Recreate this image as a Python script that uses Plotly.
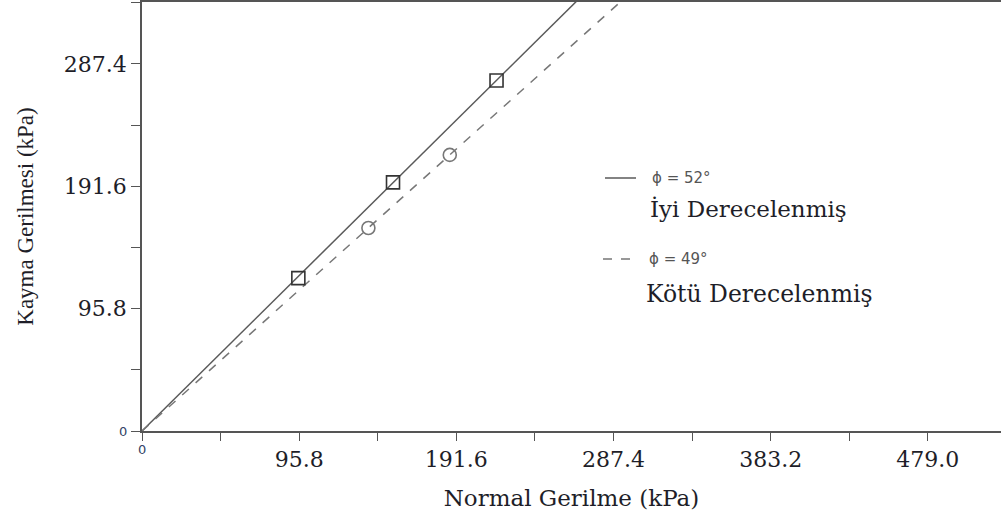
import plotly.graph_objects as go

# ---- data ----
good_x = [95.3, 153.0, 216.1]          # İyi Derecelenmiş (squares)
good_y = [119.7, 194.6, 274.3]
poor_x = [138.0, 187.6]                # Kötü Derecelenmiş (circles)
poor_y = [158.9, 216.1]
good_line_x = [0, 300.0]               # phi = 52°
good_line_y = [0, 381.0]
poor_line_x = [0, 320.0]               # phi = 49°
poor_line_y = [0, 368.6]

tick_vals = [0, 47.9, 95.8, 143.7, 191.6, 239.5, 287.4, 335.3, 383.2, 431.1, 479.0]
x_tick_text = ["", "", "95.8", "", "191.6", "", "287.4", "", "383.2", "", "479.0"]
y_tick_text = ["", "", "95.8", "", "191.6", "", "287.4", "", "", "", ""]

serif = "DejaVu Serif, serif"
serif_v = "Liberation Serif, Times New Roman, serif"
sans = "DejaVu Sans, sans-serif"
line_col = "#5a5a5a"
text_col = "#1e1e28"

fig = go.Figure()
fig.add_trace(go.Scatter(x=good_line_x, y=good_line_y, mode="lines",
                         line=dict(color=line_col, width=1.5), showlegend=False))
fig.add_trace(go.Scatter(x=poor_line_x, y=poor_line_y, mode="lines",
                         line=dict(color="#777777", width=1.5, dash="dash"), showlegend=False))
fig.add_trace(go.Scatter(x=good_x, y=good_y, mode="markers",
                         marker=dict(symbol="square-open", size=13, color="#333333",
                                     line=dict(color="#333333", width=1.6)),
                         showlegend=False))
fig.add_trace(go.Scatter(x=poor_x, y=poor_y, mode="markers",
                         marker=dict(symbol="circle-open", size=13, color="#777777",
                                     line=dict(color="#777777", width=1.6)),
                         showlegend=False))

axis_common = dict(showgrid=False, zeroline=False, showline=True, linecolor="#555555",
                   linewidth=1.5, ticks="outside", tickcolor="#555555", tickwidth=1.3,
                   automargin=False,
                   tickfont=dict(family=serif, size=22, color=text_col))

fig.update_xaxes(range=[0, 523.6], tickmode="array", tickvals=tick_vals,
                 ticktext=x_tick_text, ticklen=8, mirror=True,
                 title=dict(text="Normal Gerilme (kPa)", standoff=19,
                            font=dict(family=serif, size=23, color=text_col)),
                 **axis_common)
fig.update_yaxes(range=[0, 335.8], tickmode="array", tickvals=tick_vals,
                 ticktext=y_tick_text, ticklen=9,
                 title=dict(text="Kayma Gerilmesi (kPa)", standoff=24,
                            font=dict(family=serif_v, size=23, color=text_col)),
                 **axis_common)

annotations = [
    dict(x=0, y=0, xref="x", yref="y", text="0", showarrow=False,
         xanchor="center", yanchor="top", yshift=-9,
         font=dict(family=sans, size=13, color="#334466")),
    dict(x=0, y=0, xref="x", yref="y", text="0", showarrow=False,
         xanchor="right", yanchor="middle", xshift=-13,
         font=dict(family=sans, size=13, color="#334466")),
    dict(x=650, y=178, xref="paper", yref="paper", text="ϕ = 52°", showarrow=False,
         xanchor="left", yanchor="middle", font=dict(family=sans, size=15, color="#555555")),
    dict(x=648, y=209, xref="paper", yref="paper", text="İyi Derecelenmiş", showarrow=False,
         xanchor="left", yanchor="middle", font=dict(family=serif, size=23, color=text_col)),
    dict(x=647, y=259, xref="paper", yref="paper", text="ϕ = 49°", showarrow=False,
         xanchor="left", yanchor="middle", font=dict(family=sans, size=15, color="#555555")),
    dict(x=644, y=294, xref="paper", yref="paper", text="Kötü Derecelenmiş", showarrow=False,
         xanchor="left", yanchor="middle", font=dict(family=serif, size=23.5, color=text_col)),
]

W, H = 1001, 520
ML, MR, MT, MB = 142, 0, 2, 89
pw, ph = W - ML - MR, H - MT - MB

def px(xp):
    return (xp - ML) / pw

def py(yp):
    return (H - MB - yp) / ph

for a in annotations:
    if a["xref"] == "paper":
        a["x"] = px(a["x"])
        a["y"] = py(a["y"])

shapes = [
    dict(type="line", xref="paper", yref="paper", x0=px(605), x1=px(636), y0=py(178), y1=py(178),
         line=dict(color=line_col, width=1.5)),
    dict(type="line", xref="paper", yref="paper", x0=px(603), x1=px(633), y0=py(259), y1=py(259),
         line=dict(color="#777777", width=1.5, dash="dash")),
]

fig.update_layout(width=W, height=H, margin=dict(l=ML, r=MR, t=MT, b=MB),
                  plot_bgcolor="white", paper_bgcolor="white",
                  annotations=annotations, shapes=shapes)

fig.write_html("out.html", config={"displayModeBar": False},
               post_script="document.body.style.margin='0';document.body.style.padding='0';document.body.style.overflow='hidden';")
